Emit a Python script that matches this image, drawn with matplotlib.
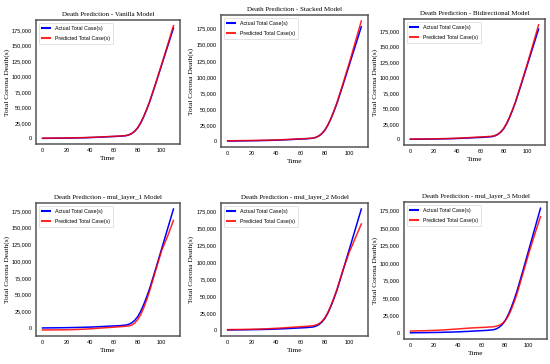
import matplotlib.pyplot as plt
from matplotlib.ticker import FuncFormatter

# days since start
t = [0, 5, 10, 15, 20, 25, 30, 35, 40, 45, 50, 55, 60, 65, 70,
     72.5, 75, 77.5, 80, 82.5, 85, 87.5, 90, 95, 100, 105, 110]

actual = [0, 100, 200, 300, 450, 600, 800, 1000, 1300, 1700, 2100, 2600, 3000, 3500, 4300,
          5500, 7800, 11500, 17000, 25000, 35000, 46500, 59000, 88000, 118000, 148000, 178000]

pred_vanilla = [300, 350, 450, 550, 700, 850, 1050, 1250, 1550, 1950, 2350, 2850, 3300, 3800, 4500,
                5800, 8000, 11800, 17300, 25300, 35300, 46800, 59500, 88500, 119000, 150000, 182000]
pred_stacked = [400, 450, 550, 650, 800, 950, 1150, 1350, 1650, 2050, 2450, 2950, 3400, 3900, 4500,
                5700, 7900, 11500, 16800, 24800, 35000, 47000, 60000, 90000, 121000, 154000, 187000]
pred_bidir = [300, 350, 450, 550, 700, 900, 1100, 1350, 1700, 2150, 2650, 3200, 3700, 4200, 4900,
              6000, 8200, 11800, 17200, 25200, 35300, 47000, 59500, 89500, 120000, 152000, 185000]
pred_ml1 = [-3000, -3000, -2900, -2800, -2700, -2500, -2200, -1800, -1300, -700, 0, 600, 1200, 1800, 2600,
            3200, 4300, 7500, 12500, 20000, 30000, 42000, 55500, 86000, 115500, 137000, 161000]
pred_ml2 = [500, 600, 700, 850, 1000, 1250, 1550, 1950, 2450, 3000, 3600, 4200, 4800, 5400, 6200,
            7200, 9000, 12500, 17800, 25800, 36000, 47500, 60000, 89000, 114000, 135000, 156000]
pred_ml3 = [2500, 2700, 2900, 3100, 3400, 3800, 4300, 4900, 5500, 6100, 6700, 7200, 7600, 8000, 8600,
            9300, 10600, 13000, 17000, 23500, 32000, 43000, 55000, 84000, 113000, 140000, 166000]

titles = ['Death Prediction - Vanilla Model', 'Death Prediction - Stacked Model',
          'Death Prediction - Bidirectional Model', 'Death Prediction - mul_layer_1 Model',
          'Death Prediction - mul_layer_2 Model', 'Death Prediction - mul_layer_3 Model']
preds = [pred_vanilla, pred_stacked, pred_bidir, pred_ml1, pred_ml2, pred_ml3]

# axes boxes in pixels: left, top, right, bottom
boxes = [(36, 20, 180, 144), (221, 15, 368, 147), (404, 19, 545, 145),
         (36, 203, 180, 336), (221, 203, 368, 336), (404, 202, 547, 339)]

W, H = 550, 364
fig = plt.figure(figsize=(W / 100, H / 100), dpi=100)
serif = 'Liberation Serif'
sans = ['Liberation Sans Narrow', 'Liberation Sans', 'DejaVu Sans']

for (x0, y0, x1, y1), title, pred in zip(boxes, titles, preds):
    ax = fig.add_axes([x0 / W, 1 - y1 / H, (x1 - x0) / W, (y1 - y0) / H])
    ax.plot(t, actual, color='blue', lw=1.1, label='Actual Total Case(s)')
    ax.plot(t, pred, color='red', lw=1.1, alpha=0.85, label='Predicted Total Case(s)')
    ax.set_title(title, family=serif, fontsize=5.0, pad=3)
    ax.set_xlabel('Time', family=serif, fontsize=5.4, labelpad=2)
    ax.set_ylabel('Total Corona Death(s)', family=serif, fontsize=5.4, labelpad=1.5)
    ax.set_xticks([0, 20, 40, 60, 80, 100])
    ax.set_yticks(range(0, 175001, 25000))
    ax.yaxis.set_major_formatter(FuncFormatter(lambda v, p: f'{int(v):,}'))
    ax.tick_params(length=0, pad=3, labelsize=4.0)
    for lab in ax.get_xticklabels() + ax.get_yticklabels():
        lab.set_family(sans)
    for s in ax.spines.values():
        s.set_color('#555555')
        s.set_linewidth(1.1)
    leg = ax.legend(loc='upper left', prop={'family': sans, 'size': 3.8},
                    handlelength=1.6, handletextpad=0.9, borderpad=0.6,
                    labelspacing=0.9, fancybox=True)
    leg.get_frame().set_edgecolor('#cccccc')
    leg.get_frame().set_linewidth(0.5)
    for h in leg.get_lines():
        h.set_linewidth(1.5)

fig.savefig('out.png', dpi=100)
